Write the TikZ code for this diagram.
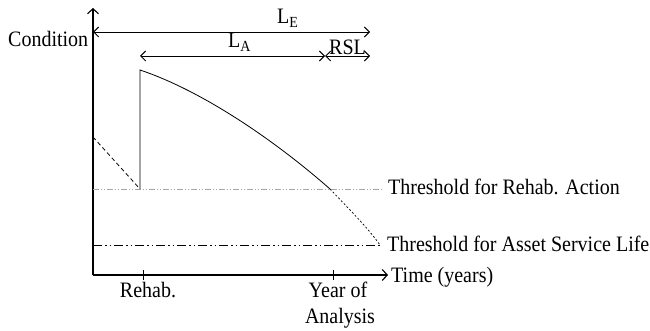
\documentclass[tikz,border=0pt]{standalone}
\usepackage{fontspec}
\setmainfont{Liberation Serif}
\usetikzlibrary{arrows.meta}
\newcommand{\tallt}[1]{\scalebox{1}[1.1]{#1}}
\begin{document}
\begin{tikzpicture}[x=1pt,y=-1pt,
  lbl/.style={inner sep=0pt,font=\fontsize{20}{26}\selectfont},
  axis/.style={line width=1.1pt,-{Straight Barb[length=5pt,width=11pt]}},
  dim/.style={line width=0.9pt,{Straight Barb[length=5pt,width=10pt]}-{Straight Barb[length=5pt,width=10pt]}},
  curve/.style={line width=0.8pt},
  rehabthr/.style={line width=0.7pt,gray!70,dash pattern=on 6pt off 2pt on 1pt off 2pt on 1pt off 2pt},
  assetthr/.style={line width=0.8pt,dash pattern=on 9pt off 3pt on 1.5pt off 3pt on 1.5pt off 3pt},
  tick/.style={line width=0.8pt}]
\useasboundingbox (0,0) rectangle (650,331);
% coordinates
\coordinate (O) at (93,275);
\coordinate (ytop) at (93,8);
\coordinate (xend) at (388,275);
\coordinate (leA) at (93,32);
\coordinate (leB) at (370,32);
\coordinate (laA) at (140,56);
\coordinate (laB) at (325,56);
\coordinate (rslB) at (370,56);
\coordinate (r1) at (93,189);
\coordinate (r2) at (382,189);
\coordinate (a1) at (93,245);
\coordinate (a2) at (382,245);
\coordinate (c0) at (93,137);
\coordinate (c1) at (140,189);
\coordinate (c2) at (140,70);
\coordinate (c3) at (330,189);
\coordinate (c4) at (380,245);
\coordinate (t1a) at (143,270);
\coordinate (t1b) at (143,280);
\coordinate (t2a) at (333,270);
\coordinate (t2b) at (333,280);
% axes
\draw[axis] (O) -- (ytop);
\draw[axis] (O) -- (xend);
\draw[tick] (t1a) -- (t1b);
\draw[tick] (t2a) -- (t2b);
% dimension arrows
\draw[dim] (leA) -- (leB);
\draw[dim] (laA) -- (laB);
\draw[dim] (laB) -- (rslB);
% thresholds
\draw[rehabthr] (r1) -- (r2);
\draw[assetthr] (a1) -- (a2);
% condition curve
\draw[curve, dash pattern=on 4pt off 3pt] (c0) -- (c1);
\draw[curve] (c1) -- (c2) .. controls (200,90) and (272,138) .. (c3);
\draw[line width=0.7pt, dash pattern=on 2pt off 2pt] (c3) .. controls (350,210) and (368,228) .. (c4);
% labels
\node[lbl,anchor=base west] (cond) at (8,47) {\tallt{Condition}};
\node[lbl,anchor=base west] (le) at (277,24) {\tallt{L\textsubscript{E}}};
\node[lbl,anchor=base west] (la) at (228,48) {\tallt{L\textsubscript{A}}};
\node[lbl,anchor=base west] (rsl) at (329,55) {\tallt{RSL}};
\node[lbl,anchor=base west] (thr) at (388,194) {\tallt{Threshold for Rehab. Action}};
\node[lbl,anchor=base west] (tha) at (387,251) {\tallt{Threshold for Asset Service Life}};
\node[lbl,anchor=base west] (time) at (391,282) {\tallt{Time (years)}};
\node[lbl,anchor=base] (rehab) at (148,297) {\tallt{Rehab.}};
\node[lbl,anchor=base] (year) at (338,297) {\tallt{Year of}};
\node[lbl,anchor=base] (anal) at (340,323) {\tallt{Analysis}};
\end{tikzpicture}
\end{document}
